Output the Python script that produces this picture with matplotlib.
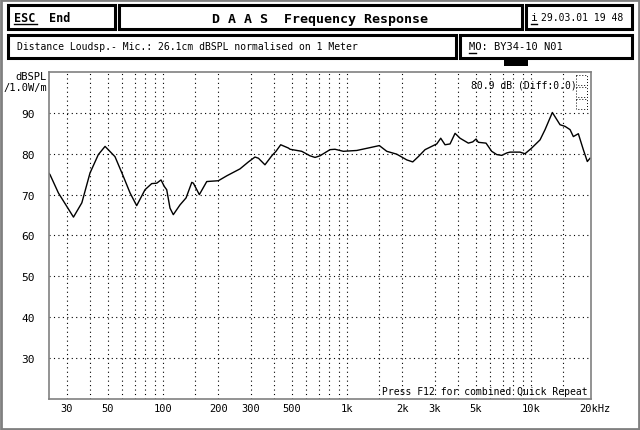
import matplotlib
matplotlib.use("Agg")
import matplotlib.pyplot as plt
import matplotlib.patches as patches
import matplotlib.transforms as mtransforms

# Frequency response (Hz, dBSPL)
freq = [24.0, 24.3, 27.0, 32.6, 36.2, 40.1, 44.5, 48.4, 54.8, 60.8, 66.2, 71.9,
        79.8, 86.8, 92.4, 97.5, 101.6, 104.7, 109.1, 113.7, 123.7, 133.4, 143.3,
        146.2, 157.5, 172.8, 199.8, 222, 262, 291, 316, 330, 358, 390, 411, 436,
        480, 490, 567, 629, 670, 713, 808, 860, 955, 1129, 1334, 1498, 1644, 1862,
        2111, 2275, 2441, 2655, 2945, 3073, 3230, 3409, 3630, 3865, 4113, 4564,
        4822, 5025, 5171, 5693, 6112, 6510, 6934, 7384, 7691, 8713, 9272, 10085,
        11194, 11918, 13058, 14375, 15305, 16297, 16982, 18076, 19240, 20223, 20930]
spl = [75.2, 74.9, 70.4, 64.5, 68.0, 75.3, 79.8, 81.8, 79.3, 74.5, 70.4, 67.3,
       71.2, 72.7, 72.8, 73.6, 72.0, 71.2, 66.7, 65.1, 67.5, 69.2, 73.0,
       72.8, 70.0, 73.2, 73.4, 74.6, 76.3, 78.0, 79.2, 78.9, 77.3, 79.5, 80.6, 82.2,
       81.4, 81.1, 80.6, 79.5, 79.1, 79.5, 81.0, 81.1, 80.6, 80.8, 81.5, 82.0, 80.6, 79.9,
       78.5, 78.0, 79.3, 81.0, 82.0, 82.4, 83.8, 82.2, 82.4, 85.0, 83.8, 82.6,
       82.9, 83.6, 82.8, 82.6, 80.6, 79.8, 79.6, 80.2, 80.4, 80.4, 80.0, 81.4,
       83.4, 85.9, 90.1, 87.1, 86.7, 85.9, 84.2, 84.9, 81.0, 78.1, 78.9]

# Axis ticks and grid positions
xtick_vals = [30, 50, 100, 200, 300, 500, 1000, 2000, 3000, 5000, 10000, 20000]
xtick_labels = ["30", "50", "100", "200", "300", "500", "1k", "2k", "3k", "5k", "10k", "20kHz"]
xgrid_vals = [30, 40, 50, 60, 70, 80, 90, 100, 150, 200, 300, 400, 500, 600, 700, 800, 900,
              1000, 1500, 2000, 3000, 4000, 5000, 6000, 7000, 8000, 9000, 10000, 15000]
ytick_vals = [30, 40, 50, 60, 70, 80, 90]

W, H = 640, 431
fig = plt.figure(figsize=(W / 100, H / 100), dpi=100)
mono = "DejaVu Sans Mono"
dither = "#808080"

# plot area
ax = fig.add_axes([49 / W, 1 - 400 / H, 542 / W, 327 / H])
ax.set_facecolor("none")
ax.plot(freq, spl, color="black", linewidth=1.0)
ax.set_xscale("log")
ax.set_xlim(24, 21180)
ax.set_ylim(20, 100)
ax.xaxis.remove_overlapping_locs = False
ax.set_xticks(xtick_vals)
ax.set_xticklabels(xtick_labels, fontfamily=mono, fontsize=7.5)
ax.set_xticks(xgrid_vals, minor=True)
ax.set_xticklabels([], minor=True)
ax.set_yticks(ytick_vals)
ax.set_yticklabels([str(v) for v in ytick_vals], fontfamily=mono, fontsize=8)
ax.tick_params(axis="both", which="both", length=0)
ax.tick_params(axis="x", pad=3)
ax.tick_params(axis="y", pad=10)
ax.grid(True, axis="x", which="minor", color="black", linestyle=(0, (1, 3)), linewidth=0.8)
ax.grid(True, axis="y", which="major", color="black", linestyle=(0, (1, 3)), linewidth=0.8)
for s in ax.spines.values():
    s.set_color(dither)
    s.set_linewidth(1.2)

# shift "20kHz" so the number sits on its gridline
lab = ax.get_xticklabels()[-1]
lab.set_transform(lab.get_transform() + mtransforms.ScaledTranslation(8 / 100, 0, fig.dpi_scale_trans))

# screen overlay in pixel units
ov = fig.add_axes([0, 0, 1, 1], zorder=-1)
ov.set_xlim(0, W)
ov.set_ylim(H, 0)
ov.axis("off")
ov.add_patch(patches.Rectangle((1, 1), W - 2, H - 2, fill=False, edgecolor=dither, linewidth=2))

boxes = [(8, 6, 107, 24), (119, 6, 403, 24), (526, 6, 106, 24), (8, 36, 448, 23), (460, 36, 172, 23)]
for bx, by, bw, bh in boxes:
    ov.add_patch(patches.Rectangle((bx, by), bw, bh, fill=False, edgecolor="black", linewidth=2.2))
ov.add_patch(patches.Rectangle((504, 59), 24, 8, facecolor="black", edgecolor="none"))

# small dotted indicator in top right of plot
for yy in (76, 88, 100):
    ov.add_patch(patches.Rectangle((576, yy), 11, 10, fill=False, edgecolor="black",
                                   linestyle=(0, (1, 2)), linewidth=0.7))

ov.text(14, 18, "ESC", fontfamily=mono, fontsize=8.5, fontweight="bold", va="center")
ov.plot([14, 37], [25, 25], color="black", linewidth=1)
ov.text(49, 18, "End", fontfamily=mono, fontsize=8.5, fontweight="bold", va="center")
ov.text(320, 19, "D A A S  Frequency Response", fontfamily=mono, fontsize=9.5, fontweight="bold",
        ha="center", va="center")
ov.text(531, 18, "i", fontfamily=mono, fontsize=8, va="center")
ov.plot([531, 537], [25, 25], color="black", linewidth=1)
ov.text(541, 18, "29.03.01 19 48", fontfamily=mono, fontsize=7, va="center")
ov.text(17, 47, "Distance Loudsp.- Mic.: 26.1cm dBSPL normalised on 1 Meter", fontfamily=mono,
        fontsize=7, va="center")
ov.text(469, 47, "MO: BY34-10 N01", fontfamily=mono, fontsize=7.5, va="center")
ov.plot([469, 476], [54, 54], color="black", linewidth=1)
ov.text(47, 77, "dBSPL", fontfamily=mono, fontsize=7.5, ha="right", va="center")
ov.text(47, 88, "/1.0W/m", fontfamily=mono, fontsize=7.5, ha="right", va="center")
ov.text(471, 85, "80.9 dB (Diff:0.0)", fontfamily=mono, fontsize=7, va="center")
ov.text(588, 397, "Press F12 for combined Quick Repeat", fontfamily=mono, fontsize=7,
        ha="right", va="bottom")

fig.savefig("out.png", dpi=100)
